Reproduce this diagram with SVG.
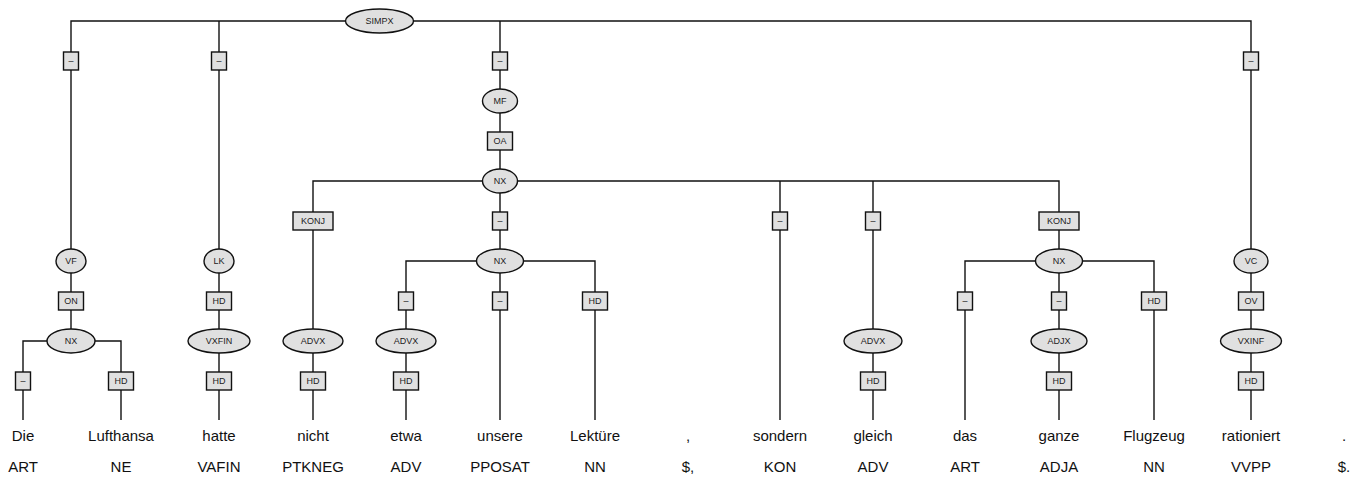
<svg xmlns="http://www.w3.org/2000/svg" width="1364" height="477" viewBox="0 0 1364 477">
<style>
.e{fill:#e0e0e0;stroke:#111;stroke-width:1.4}
.b{fill:#e0e0e0;stroke:#111;stroke-width:1.4}
.l{font-family:"Liberation Sans",Arial,sans-serif;font-size:9px;fill:#222;text-anchor:middle}
.w{font-family:"Liberation Sans",Arial,sans-serif;font-size:15px;fill:#111;text-anchor:middle}
#edges path{fill:none;stroke:#111;stroke-width:1.4}
</style>
<rect width="1364" height="477" fill="#fff"/>
<g id="edges">
<path d="M71 261V21H1251V261"/>
<path d="M219 21V261"/>
<path d="M500 21V181"/>
<path d="M313 341V181H1059V261"/>
<path d="M500 181V261"/>
<path d="M780 181V420"/>
<path d="M873 181V341"/>
<path d="M406 341V261H595V420"/>
<path d="M500 261V420"/>
<path d="M965 420V261H1154V420"/>
<path d="M1059 261V341"/>
<path d="M71 261V341"/>
<path d="M23 420V341H121V420"/>
<path d="M219 261V420"/>
<path d="M313 341V420"/>
<path d="M406 341V420"/>
<path d="M873 341V420"/>
<path d="M1059 341V420"/>
<path d="M1251 261V420"/>
</g>
<g id="edge-labels">
<g><rect class="b" x="63.5" y="52" width="15" height="18"/><text class="l" x="71" y="64">–</text></g>
<g><rect class="b" x="211.5" y="52" width="15" height="18"/><text class="l" x="219" y="64">–</text></g>
<g><rect class="b" x="492.5" y="52" width="15" height="18"/><text class="l" x="500" y="64">–</text></g>
<g><rect class="b" x="1243.5" y="52" width="15" height="18"/><text class="l" x="1251" y="64">–</text></g>
<g><rect class="b" x="487.5" y="132" width="25" height="18"/><text class="l" x="500" y="144">OA</text></g>
<g><rect class="b" x="293" y="212" width="40" height="18"/><text class="l" x="313" y="224">KONJ</text></g>
<g><rect class="b" x="492.5" y="212" width="15" height="18"/><text class="l" x="500" y="224">–</text></g>
<g><rect class="b" x="772.5" y="212" width="15" height="18"/><text class="l" x="780" y="224">–</text></g>
<g><rect class="b" x="865.5" y="212" width="15" height="18"/><text class="l" x="873" y="224">–</text></g>
<g><rect class="b" x="1039" y="212" width="40" height="18"/><text class="l" x="1059" y="224">KONJ</text></g>
<g><rect class="b" x="58.5" y="292" width="25" height="18"/><text class="l" x="71" y="304">ON</text></g>
<g><rect class="b" x="206.5" y="292" width="25" height="18"/><text class="l" x="219" y="304">HD</text></g>
<g><rect class="b" x="398.5" y="292" width="15" height="18"/><text class="l" x="406" y="304">–</text></g>
<g><rect class="b" x="492.5" y="292" width="15" height="18"/><text class="l" x="500" y="304">–</text></g>
<g><rect class="b" x="582.5" y="292" width="25" height="18"/><text class="l" x="595" y="304">HD</text></g>
<g><rect class="b" x="957.5" y="292" width="15" height="18"/><text class="l" x="965" y="304">–</text></g>
<g><rect class="b" x="1051.5" y="292" width="15" height="18"/><text class="l" x="1059" y="304">–</text></g>
<g><rect class="b" x="1141.5" y="292" width="25" height="18"/><text class="l" x="1154" y="304">HD</text></g>
<g><rect class="b" x="1238.5" y="292" width="25" height="18"/><text class="l" x="1251" y="304">OV</text></g>
<g><rect class="b" x="15.5" y="372" width="15" height="18"/><text class="l" x="23" y="384">–</text></g>
<g><rect class="b" x="108.5" y="372" width="25" height="18"/><text class="l" x="121" y="384">HD</text></g>
<g><rect class="b" x="206.5" y="372" width="25" height="18"/><text class="l" x="219" y="384">HD</text></g>
<g><rect class="b" x="300.5" y="372" width="25" height="18"/><text class="l" x="313" y="384">HD</text></g>
<g><rect class="b" x="393.5" y="372" width="25" height="18"/><text class="l" x="406" y="384">HD</text></g>
<g><rect class="b" x="860.5" y="372" width="25" height="18"/><text class="l" x="873" y="384">HD</text></g>
<g><rect class="b" x="1046.5" y="372" width="25" height="18"/><text class="l" x="1059" y="384">HD</text></g>
<g><rect class="b" x="1238.5" y="372" width="25" height="18"/><text class="l" x="1251" y="384">HD</text></g>
</g>
<g id="n-simpx"><ellipse class="e" cx="379.5" cy="21" rx="34" ry="12"/><text class="l" x="379.5" y="24">SIMPX</text></g>
<g id="n-mf"><ellipse class="e" cx="500" cy="101" rx="17.5" ry="12"/><text class="l" x="500" y="104">MF</text></g>
<g id="n-nx-top"><ellipse class="e" cx="500" cy="181" rx="17.5" ry="12"/><text class="l" x="500" y="184">NX</text></g>
<g id="n-vf"><ellipse class="e" cx="71" cy="261" rx="15" ry="12"/><text class="l" x="71" y="264">VF</text></g>
<g id="n-lk"><ellipse class="e" cx="219" cy="261" rx="15" ry="12"/><text class="l" x="219" y="264">LK</text></g>
<g id="n-nx-mid"><ellipse class="e" cx="500" cy="261" rx="23.5" ry="12"/><text class="l" x="500" y="264">NX</text></g>
<g id="n-nx-right"><ellipse class="e" cx="1059" cy="261" rx="23.5" ry="12"/><text class="l" x="1059" y="264">NX</text></g>
<g id="n-vc"><ellipse class="e" cx="1251" cy="261" rx="17" ry="12"/><text class="l" x="1251" y="264">VC</text></g>
<g id="n-nx-left"><ellipse class="e" cx="71" cy="341" rx="24" ry="12"/><text class="l" x="71" y="344">NX</text></g>
<g id="n-vxfin"><ellipse class="e" cx="219" cy="341" rx="31" ry="12"/><text class="l" x="219" y="344">VXFIN</text></g>
<g id="n-advx1"><ellipse class="e" cx="313" cy="341" rx="30" ry="12"/><text class="l" x="313" y="344">ADVX</text></g>
<g id="n-advx2"><ellipse class="e" cx="406" cy="341" rx="30" ry="12"/><text class="l" x="406" y="344">ADVX</text></g>
<g id="n-advx3"><ellipse class="e" cx="873" cy="341" rx="29" ry="12"/><text class="l" x="873" y="344">ADVX</text></g>
<g id="n-adjx"><ellipse class="e" cx="1059" cy="341" rx="28" ry="12"/><text class="l" x="1059" y="344">ADJX</text></g>
<g id="n-vxinf"><ellipse class="e" cx="1251" cy="341" rx="30.5" ry="12"/><text class="l" x="1251" y="344">VXINF</text></g>
<g id="words">
<text class="w" x="23" y="441">Die</text>
<text class="w" x="121" y="441">Lufthansa</text>
<text class="w" x="219" y="441">hatte</text>
<text class="w" x="313" y="441">nicht</text>
<text class="w" x="406" y="441">etwa</text>
<text class="w" x="500" y="441">unsere</text>
<text class="w" x="595" y="441">Lektüre</text>
<text class="w" x="688" y="441">,</text>
<text class="w" x="780" y="441">sondern</text>
<text class="w" x="873" y="441">gleich</text>
<text class="w" x="965" y="441">das</text>
<text class="w" x="1059" y="441">ganze</text>
<text class="w" x="1154" y="441">Flugzeug</text>
<text class="w" x="1251" y="441">rationiert</text>
<text class="w" x="1344" y="441">.</text>
</g>
<g id="tags">
<text class="w" x="23" y="472">ART</text>
<text class="w" x="121" y="472">NE</text>
<text class="w" x="219" y="472">VAFIN</text>
<text class="w" x="313" y="472">PTKNEG</text>
<text class="w" x="406" y="472">ADV</text>
<text class="w" x="500" y="472">PPOSAT</text>
<text class="w" x="595" y="472">NN</text>
<text class="w" x="688" y="472">$,</text>
<text class="w" x="780" y="472">KON</text>
<text class="w" x="873" y="472">ADV</text>
<text class="w" x="965" y="472">ART</text>
<text class="w" x="1059" y="472">ADJA</text>
<text class="w" x="1154" y="472">NN</text>
<text class="w" x="1251" y="472">VVPP</text>
<text class="w" x="1344" y="472">$.</text>
</g>
</svg>
